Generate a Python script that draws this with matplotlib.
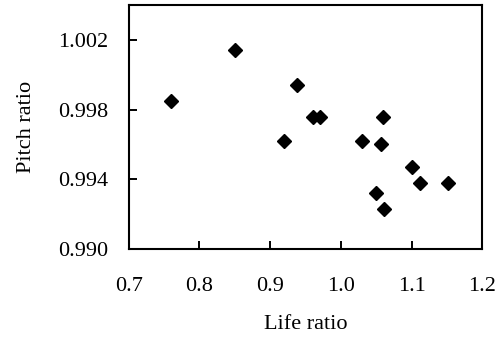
import matplotlib
matplotlib.use('Agg')
import matplotlib.pyplot as plt

# values
life_ratio = [0.76, 0.85, 0.938, 0.92, 0.96, 0.97, 1.03, 1.06, 1.057, 1.05, 1.061, 1.10, 1.111, 1.151]
pitch_ratio = [0.9985, 1.0014, 0.9994, 0.9962, 0.9976, 0.9976, 0.9962, 0.9976, 0.9960,
               0.9932, 0.9923, 0.9947, 0.9938, 0.9938]
x_ticks = [0.7, 0.8, 0.9, 1.0, 1.1, 1.2]
y_ticks = [0.990, 0.994, 0.998, 1.002]

plt.rcParams['font.family'] = ['Liberation Serif', 'DejaVu Serif']

fig = plt.figure(figsize=(5.01, 3.37), dpi=100)
ax = fig.add_axes([0.257, 0.261, 0.706, 0.724])

ax.plot(life_ratio, pitch_ratio, linestyle='none', marker='D', markersize=6.8,
        color='black')

ax.set_xlim(0.7, 1.2)
ax.set_ylim(0.990, 1.004)
ax.set_xticks(x_ticks)
ax.set_xticklabels(['%.1f' % v for v in x_ticks])
ax.set_yticks(y_ticks)
ax.set_yticklabels(['%.3f' % v for v in y_ticks])

ax.tick_params(direction='in', length=6, width=1.4, labelsize=16)
ax.tick_params(axis='x', pad=20)
ax.tick_params(axis='y', pad=15)
for s in ax.spines.values():
    s.set_linewidth(1.5)

ax.set_xlabel('Life ratio', fontsize=16, labelpad=14)
ax.set_ylabel('Pitch ratio', fontsize=16, labelpad=16)

fig.savefig('out.png', dpi=100)
